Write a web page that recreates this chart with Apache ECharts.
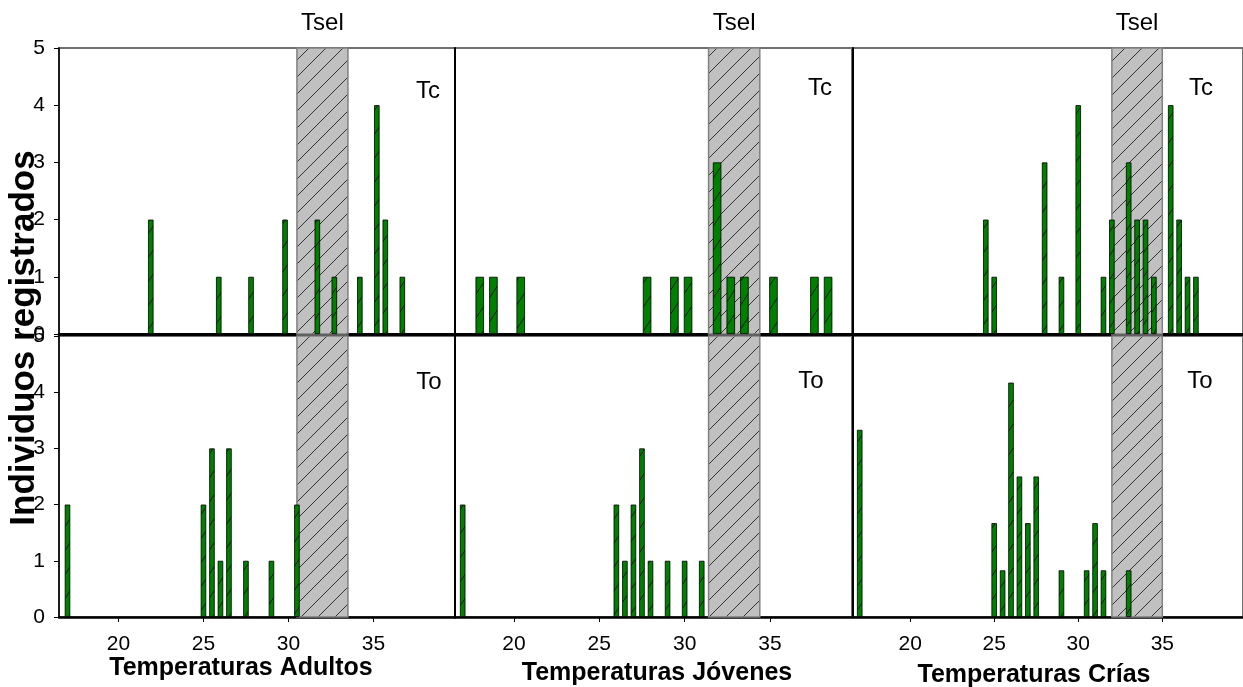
<!DOCTYPE html>
<html>
<head>
<meta charset="utf-8">
<title>Temperaturas</title>
<script src="https://cdn.jsdelivr.net/npm/echarts@6/dist/echarts.min.js"></script>
<style>
  html, body { margin: 0; padding: 0; background: #fff; }
  #chart { width: 1243px; height: 687px; }
</style>
</head>
<body>
<div id="chart"></div>
<script>
// datos
var xTicks = [20, 25, 30, 35];

var adultosTcX = [21.9, 25.9, 27.8, 29.8, 31.7, 32.7, 34.2, 35.2, 35.7, 36.7];
var adultosTcY = [2, 1, 1, 2, 2, 1, 1, 4, 2, 1];
var adultosToX = [17, 25, 25.5, 26, 26.5, 27.5, 29, 30.5];
var adultosToY = [2, 2, 3, 1, 3, 1, 1, 2];

var jovenesTcX = [18, 18.8, 20.4, 27.8, 29.4, 30.2, 31.9, 32.7, 33.5, 35.2, 37.6, 38.4];
var jovenesTcY = [1, 1, 1, 1, 1, 1, 3, 1, 1, 1, 1, 1];
var jovenesToX = [17, 26, 26.5, 27, 27.5, 28, 29, 30, 31];
var jovenesToY = [2, 2, 1, 2, 3, 1, 1, 1, 1];

var criasTcX = [24.5, 25, 28, 29, 30, 31.5, 32, 33, 33.5, 34, 34.5, 35.5, 36, 36.5, 37];
var criasTcY = [2, 1, 3, 1, 4, 1, 2, 3, 2, 2, 1, 4, 2, 1, 1];
var criasToX = [17, 25, 25.5, 26, 26.5, 27, 27.5, 29, 30.5, 31, 31.5, 33];
var criasToY = [3.33, 1.67, 0.83, 4.17, 2.5, 1.67, 2.5, 0.83, 0.83, 1.67, 0.83, 0.83];

var tselAdultos = [30.5, 33.5];
var tselJovenes = [31.4, 34.4];
var tselCrias = [32, 35];

var xTitles = ['Temperaturas Adultos', 'Temperaturas Jóvenes', 'Temperaturas Crías'];

// layout
var FONT = '"Liberation Sans", Arial, sans-serif';
var lefts = [59, 455, 853];
var widths = [396, 397, 393];
var mins = [16.5, 16.55, 16.6];

function hatch(bg, w, h, stroke) {
    var c = document.createElement('canvas');
    c.width = w; c.height = h;
    var ctx = c.getContext('2d');
    ctx.fillStyle = bg;
    ctx.fillRect(0, 0, w, h);
    ctx.strokeStyle = stroke;
    ctx.lineWidth = 1;
    ctx.beginPath();
    ctx.moveTo(-1, h + h / w);
    ctx.lineTo(w + 1, -h / w);
    ctx.stroke();
    return { image: c, repeat: 'repeat' };
}
var barFill = hatch('#008000', 16, 24, '#0a200a');
var bandFill = hatch('#c0c0c0', 17, 17, '#333');

function pairs(xs, ys) {
    var out = [];
    for (var i = 0; i < xs.length; i++) out.push([xs[i], ys[i]]);
    return out;
}

var panels = [
    { x: adultosTcX, y: adultosTcY, tsel: tselAdultos, row: 0, col: 0, bw: 5.5 },
    { x: jovenesTcX, y: jovenesTcY, tsel: tselJovenes, row: 0, col: 1, bw: 8.5 },
    { x: criasTcX, y: criasTcY, tsel: tselCrias, row: 0, col: 2, bw: 5.5 },
    { x: adultosToX, y: adultosToY, tsel: tselAdultos, row: 1, col: 0, bw: 5.5 },
    { x: jovenesToX, y: jovenesToY, tsel: tselJovenes, row: 1, col: 1, bw: 5.5 },
    { x: criasToX, y: criasToY, tsel: tselCrias, row: 1, col: 2, bw: 5.5 }
];

var grid = [], xAxis = [], yAxis = [], series = [];
panels.forEach(function (p, i) {
    var top = p.row === 0;
    grid.push({
        left: lefts[p.col], width: widths[p.col],
        top: top ? 48 : 336, height: top ? 286 : 281,
        show: true, borderColor: '#707070', borderWidth: 2
    });
    xAxis.push({
        type: 'value', gridIndex: i, min: mins[p.col], max: 39.8,
        splitLine: { show: false },
        axisLine: { lineStyle: { color: '#000', width: top ? 3 : 2.5 } },
        axisTick: { show: !top, customValues: xTicks, length: 5, lineStyle: { color: '#000' } },
        axisLabel: { show: !top, customValues: xTicks, margin: 17, color: '#000', fontSize: 21, fontFamily: FONT }
    });
    yAxis.push({
        type: 'value', gridIndex: i, min: 0, max: 5, interval: 1,
        splitLine: { show: false },
        axisLine: { show: true, lineStyle: { color: '#000', width: p.col === 0 ? 1.5 : 2 } },
        axisTick: { show: p.col === 0, length: 5, lineStyle: { color: '#000' } },
        axisLabel: { show: p.col === 0, margin: 14, color: '#000', fontSize: 21, fontFamily: FONT }
    });
    series.push({
        type: 'bar', xAxisIndex: i, yAxisIndex: i,
        barWidth: p.bw,
        data: pairs(p.x, p.y),
        itemStyle: { color: barFill, borderColor: '#000', borderWidth: 0.8 },
        markArea: {
            silent: true,
            itemStyle: { color: bandFill, borderColor: '#808080', borderWidth: 1.5, opacity: 1 },
            label: {
                show: top, position: 'top', distance: 12, formatter: 'Tsel',
                color: '#000', fontSize: 24, fontFamily: FONT
            },
            data: [[{ xAxis: p.tsel[0] }, { xAxis: p.tsel[1] }]]
        }
    });
});

function txt(s, x, y, font, rot) {
    return {
        type: 'text', x: x, y: y, rotation: rot || 0, z: 100,
        style: { text: s, font: font, fill: '#000', align: 'center', verticalAlign: 'middle' }
    };
}
var labelFont = '24px ' + FONT;
var graphic = [
    txt('Individuos registrados', 24, 338, 'bold 35px ' + FONT, Math.PI / 2),
    txt(xTitles[0], 241, 668, 'bold 25px ' + FONT),
    txt(xTitles[1], 657, 673, 'bold 25px ' + FONT),
    txt(xTitles[2], 1034, 675, 'bold 25px ' + FONT),
    txt('Tc', 428, 91, labelFont), txt('Tc', 820, 88, labelFont), txt('Tc', 1201, 88, labelFont),
    txt('To', 429, 382, labelFont), txt('To', 811, 381, labelFont), txt('To', 1200, 381, labelFont)
];

var chart = echarts.init(document.getElementById('chart'));
var option = {
    animation: false,
    backgroundColor: '#fff',
    grid: grid,
    xAxis: xAxis,
    yAxis: yAxis,
    series: series,
    graphic: graphic
};
chart.setOption(option);
</script>
</body>
</html>
